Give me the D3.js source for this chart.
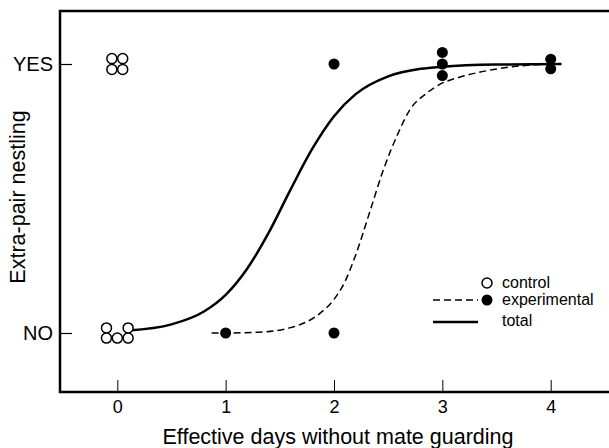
<!DOCTYPE html>
<html>
<head>
<meta charset="utf-8">
<script src="https://cdn.jsdelivr.net/npm/d3@7"></script>
<style>
  body { margin: 0; background: #fff; }
  text { font-family: "Liberation Sans", Arial, sans-serif; fill: #000; }
</style>
</head>
<body>
<svg id="chart" width="609" height="448"></svg>
<script>
// x ticks and y categories
let xTicks = [0, 1, 2, 3, 4];
let yTicks = [0, 1];
let yTickLabels = ["NO", "YES"];

// control birds (open circles), with the small spread used in the figure
let controlX = [-0.05, 0.05, -0.05, 0.05, -0.1, 0.1, -0.1, 0.0, 0.1];
let controlY = [1.02, 1.02, 0.98, 0.98, 0.019, 0.019, -0.019, -0.019, -0.019];

// experimental birds (filled circles)
let expX = [1, 2, 2, 3, 3, 3, 4, 4];
let expY = [0, 0, 1, 1.043, 1, 0.957, 1.018, 0.982];

// fitted curves
let totalX = [0.1, 0.5, 0.8, 1.0, 1.2, 1.4, 1.6, 1.8, 2.0, 2.2, 2.5, 2.8, 3.0, 3.5, 4.1];
let totalY = [0.009, 0.032, 0.08, 0.142, 0.24, 0.375, 0.534, 0.685, 0.806, 0.888, 0.954, 0.982, 0.99, 0.998, 1.0];
let expCurveX = [0.87, 1.0, 1.3, 1.6, 1.87, 2.0, 2.1, 2.2, 2.33, 2.45, 2.6, 2.7, 2.85, 2.98, 3.15, 3.35, 3.65, 4.0];
let expCurveY = [0.0, 0.0, 0.003, 0.02, 0.073, 0.125, 0.19, 0.29, 0.45, 0.6, 0.75, 0.83, 0.89, 0.925, 0.95, 0.97, 0.99, 1.0];

let svg = d3.select('#chart');
let frame = { left: 60, top: 11, right: 612, bottom: 392 };

let x = d3.scaleLinear().domain([0, 4]).range([117.3, 550.7]);
let y = d3.scaleLinear().domain([0, 1]).range([333, 64]);

// frame
svg.append("rect")
    .attr("x", frame.left)
    .attr("y", frame.top)
    .attr("width", frame.right - frame.left)
    .attr("height", frame.bottom - frame.top)
    .attr("fill", "none")
    .attr("stroke", "black")
    .attr("stroke-width", 2.5);

// x axis
let xAxis = svg.append("g")
    .attr("transform", `translate(0,${frame.bottom})`)
    .call(d3.axisBottom(x).tickValues(xTicks).tickSizeInner(-12).tickSizeOuter(0).tickPadding(8).tickFormat(d3.format("d")));
xAxis.select(".domain").remove();
xAxis.selectAll("line").attr("stroke", "black").attr("stroke-width", 1);
xAxis.selectAll("text").attr("font-size", 18).attr("font-family", "Liberation Sans, Arial, sans-serif");

// y axis
let yAxis = svg.append("g")
    .attr("transform", `translate(${frame.left},0)`)
    .call(d3.axisLeft(y).tickValues(yTicks).tickSizeInner(-12).tickSizeOuter(0).tickPadding(7).tickFormat((d, i) => yTickLabels[i]));
yAxis.select(".domain").remove();
yAxis.selectAll("line").attr("stroke", "black").attr("stroke-width", 1.2);
yAxis.selectAll("text").attr("font-size", 20).attr("font-family", "Liberation Sans, Arial, sans-serif");

// axis titles
svg.append("text")
    .attr("x", 338)
    .attr("y", 444)
    .attr("text-anchor", "middle")
    .attr("font-size", 21.5)
    .text("Effective days without mate guarding");

svg.append("text")
    .attr("transform", "translate(25,197) rotate(-90)")
    .attr("text-anchor", "middle")
    .attr("font-size", 21.5)
    .text("Extra-pair nestling");

// curves
let line = d3.line().x(d => x(d[0])).y(d => y(d[1])).curve(d3.curveMonotoneX);

svg.append("path")
    .datum(d3.zip(expCurveX, expCurveY))
    .attr("d", line)
    .attr("fill", "none")
    .attr("stroke", "black")
    .attr("stroke-width", 1.5)
    .attr("stroke-dasharray", "7,4");

svg.append("path")
    .datum(d3.zip(totalX, totalY))
    .attr("d", line)
    .attr("fill", "none")
    .attr("stroke", "black")
    .attr("stroke-width", 2.5);

// points
svg.append("g")
    .selectAll("circle")
    .data(d3.zip(controlX, controlY))
    .join("circle")
        .attr("cx", d => x(d[0]))
        .attr("cy", d => y(d[1]))
        .attr("r", 5)
        .attr("fill", "white")
        .attr("stroke", "black")
        .attr("stroke-width", 1.5);

svg.append("g")
    .selectAll("circle")
    .data(d3.zip(expX, expY))
    .join("circle")
        .attr("cx", d => x(d[0]))
        .attr("cy", d => y(d[1]))
        .attr("r", 5.5)
        .attr("fill", "black");

// legend
let legend = svg.append("g");
legend.append("circle").attr("cx", 487).attr("cy", 283).attr("r", 5)
    .attr("fill", "white").attr("stroke", "black").attr("stroke-width", 1.5);
legend.append("text").attr("x", 502).attr("y", 288).attr("font-size", 16).text("control");

legend.append("line").attr("x1", 433).attr("x2", 478).attr("y1", 300).attr("y2", 300)
    .attr("stroke", "black").attr("stroke-width", 1.5).attr("stroke-dasharray", "7,4");
legend.append("circle").attr("cx", 487).attr("cy", 300).attr("r", 5.5).attr("fill", "black");
legend.append("text").attr("x", 502).attr("y", 305).attr("font-size", 16).text("experimental");

legend.append("line").attr("x1", 433).attr("x2", 478).attr("y1", 322).attr("y2", 322)
    .attr("stroke", "black").attr("stroke-width", 2.5);
legend.append("text").attr("x", 502).attr("y", 326).attr("font-size", 16).text("total");
</script>
</body>
</html>
